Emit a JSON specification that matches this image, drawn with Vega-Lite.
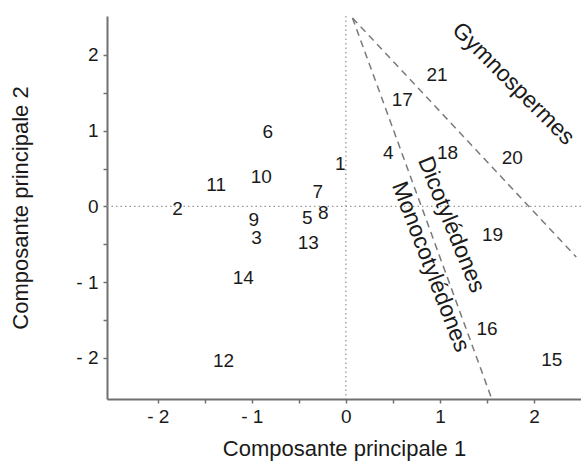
{
  "$schema": "https://vega.github.io/schema/vega-lite/v6.json",
  "width": 474,
  "height": 383,
  "autosize": {"type": "none"},
  "padding": {"left": 107, "top": 16, "right": 0, "bottom": 62},
  "background": "white",
  "config": {
    "view": {"stroke": null},
    "font": "Liberation Sans",
    "text": {"font": "Liberation Sans"}
  },
  "encoding": {
    "x": {
      "field": "x", "type": "quantitative",
      "scale": {"domain": [-2.54, 2.5], "nice": false, "zero": false},
      "axis": {
        "title": "Composante principale 1",
        "values": [-2, -1.5, -1, -0.5, 0, 0.5, 1, 1.5, 2],
        "labelExpr": "datum.value % 1 != 0 ? '' : (datum.value < 0 ? '- ' + (-datum.value) : '' + datum.value)",
        "grid": false,
        "domainColor": "#707070", "domainWidth": 2,
        "tickColor": "#707070", "tickWidth": 1.5, "tickSize": 4,
        "labelFontSize": 19, "labelColor": "#1a1a1a", "labelPadding": 4,
        "labelFont": "Liberation Sans",
        "titleFont": "Liberation Sans", "titleFontSize": 22, "titleFontWeight": "normal", "titleColor": "#1a1a1a",
        "titlePadding": 12
      }
    },
    "y": {
      "field": "y", "type": "quantitative",
      "scale": {"domain": [-2.545, 2.515], "nice": false, "zero": false},
      "axis": {
        "title": "Composante principale 2",
        "values": [-2, -1.5, -1, -0.5, 0, 0.5, 1, 1.5, 2],
        "labelExpr": "datum.value % 1 != 0 ? '' : (datum.value < 0 ? '- ' + (-datum.value) : '' + datum.value)",
        "grid": false,
        "domainColor": "#707070", "domainWidth": 2,
        "tickColor": "#707070", "tickWidth": 1.5, "tickSize": 4,
        "labelFontSize": 19, "labelColor": "#1a1a1a", "labelPadding": 5,
        "labelFont": "Liberation Sans",
        "titleFont": "Liberation Sans", "titleFontSize": 22, "titleFontWeight": "normal", "titleColor": "#1a1a1a",
        "titlePadding": 43
      }
    }
  },
  "layer": [
    {
      "data": {"values": [{"x": 0}]},
      "mark": {"type": "rule", "color": "#9a9a9a", "strokeDash": [1.5, 3], "strokeWidth": 1.3},
      "encoding": {
        "x": {"field": "x", "type": "quantitative"},
        "y": {"value": 0},
        "y2": {"value": 383}
      }
    },
    {
      "data": {"values": [{"y": 0}]},
      "mark": {"type": "rule", "color": "#9a9a9a", "strokeDash": [1.5, 3], "strokeWidth": 1.3},
      "encoding": {
        "y": {"field": "y", "type": "quantitative"},
        "x": {"value": 0},
        "x2": {"value": 474}
      }
    },
    {
      "data": {"values": [
        {"group": "Monocotylédones", "x": 0.07, "y": 2.49, "order": 1},
        {"group": "Monocotylédones", "x": 1.55, "y": -2.54, "order": 2},
        {"group": "Gymnospermes", "x": 0.07, "y": 2.49, "order": 1},
        {"group": "Gymnospermes", "x": 2.45, "y": -0.67, "order": 2}
      ]},
      "mark": {"type": "line", "color": "#7a7a7a", "strokeDash": [7, 5], "strokeWidth": 1.5},
      "encoding": {
        "detail": {"field": "group"},
        "order": {"field": "order"}
      }
    },
    {
      "data": {"values": [
        {"label": "1", "x": -0.06, "y": 0.56},
        {"label": "2", "x": -1.79, "y": -0.04},
        {"label": "3", "x": -0.95, "y": -0.42},
        {"label": "4", "x": 0.45, "y": 0.70},
        {"label": "5", "x": -0.41, "y": -0.15},
        {"label": "6", "x": -0.83, "y": 0.98},
        {"label": "7", "x": -0.30, "y": 0.19},
        {"label": "8", "x": -0.24, "y": -0.09},
        {"label": "9", "x": -0.98, "y": -0.18},
        {"label": "10", "x": -0.90, "y": 0.39},
        {"label": "11", "x": -1.38, "y": 0.28},
        {"label": "12", "x": -1.30, "y": -2.04},
        {"label": "13", "x": -0.40, "y": -0.48},
        {"label": "14", "x": -1.09, "y": -0.94},
        {"label": "15", "x": 2.19, "y": -2.03},
        {"label": "16", "x": 1.50, "y": -1.62},
        {"label": "17", "x": 0.60, "y": 1.41},
        {"label": "18", "x": 1.08, "y": 0.70},
        {"label": "19", "x": 1.56, "y": -0.38},
        {"label": "20", "x": 1.77, "y": 0.64},
        {"label": "21", "x": 0.97, "y": 1.73}
      ]},
      "mark": {"type": "text", "fontSize": 19, "color": "#1a1a1a", "align": "center", "baseline": "middle"},
      "encoding": {
        "text": {"field": "label"}
      }
    },
    {
      "data": {"values": [{"label": "Gymnospermes", "x": 1.78, "y": 1.62}]},
      "mark": {"type": "text", "fontSize": 23, "color": "#1a1a1a", "align": "center", "baseline": "middle", "angle": 45},
      "encoding": {
        "text": {"field": "label"}
      }
    },
    {
      "data": {"values": [{"label": "Dicotylédones", "x": 1.12, "y": -0.24}]},
      "mark": {"type": "text", "fontSize": 23, "color": "#1a1a1a", "align": "center", "baseline": "middle", "angle": 68},
      "encoding": {
        "text": {"field": "label"}
      }
    },
    {
      "data": {"values": [{"label": "Monocotylédones", "x": 0.9, "y": -0.8}]},
      "mark": {"type": "text", "fontSize": 23, "color": "#1a1a1a", "align": "center", "baseline": "middle", "angle": 69}, 
      "encoding": {
        "text": {"field": "label"}
      }
    }
  ]
}
